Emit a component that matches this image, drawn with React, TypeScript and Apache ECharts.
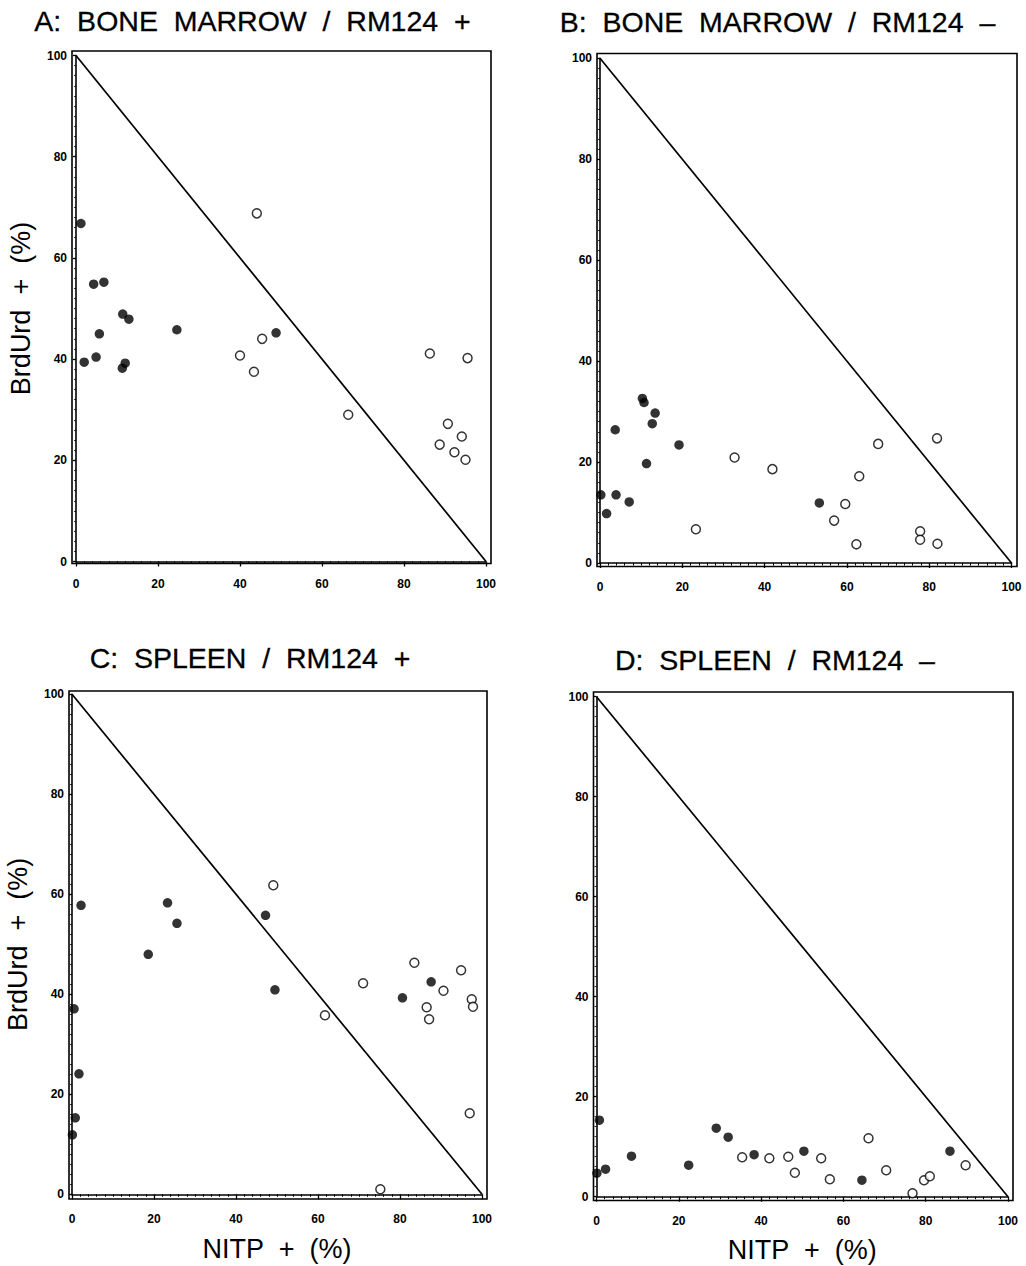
import React, { useEffect, useRef } from "react";
import * as echarts from "echarts";

// ---------- Data (NITP+ %, BrdUrd+ %) ----------
const titles = [
  "A:  BONE  MARROW  /  RM124  +",
  "B:  BONE  MARROW  /  RM124  –",
  "C:  SPLEEN  /  RM124  +",
  "D:  SPLEEN  /  RM124  –",
];
const xTitle = "NITP  +  (%)";
const yTitle = "BrdUrd  +  (%)";
const tickValues = [0, 20, 40, 60, 80, 100];
const diagonal: [number, number][] = [
  [0, 100],
  [100, 0],
];

const aFilled: [number, number][] = [
  [1.2, 66.8], [4.3, 54.8], [6.8, 55.2], [11.4, 48.9], [12.9, 47.9],
  [5.7, 45.0], [24.6, 45.8], [48.8, 45.2], [2.0, 39.4], [4.9, 40.4],
  [12.0, 39.2], [11.3, 38.2],
];
const aOpen: [number, number][] = [
  [44.1, 68.8], [45.4, 44.0], [40.0, 40.7], [43.4, 37.5], [66.4, 29.0],
  [86.3, 41.1], [95.5, 40.2], [90.7, 27.2], [94.1, 24.7], [88.7, 23.1],
  [92.3, 21.6], [95.0, 20.1],
];

const bFilled: [number, number][] = [
  [0.2, 13.5], [1.6, 9.8], [3.9, 13.5], [3.7, 26.4], [7.1, 12.1],
  [10.3, 32.6], [10.7, 31.8], [13.4, 29.7], [12.7, 27.6], [11.3, 19.7],
  [19.2, 23.4], [53.3, 11.9],
];
const bOpen: [number, number][] = [
  [23.3, 6.7], [32.7, 20.9], [41.9, 18.6], [56.9, 8.4], [59.6, 11.7],
  [62.3, 3.7], [63.0, 17.2], [67.6, 23.6], [77.8, 6.3], [77.8, 4.6],
  [81.9, 24.7], [82.0, 3.8],
];

const cFilled: [number, number][] = [
  [2.2, 57.8], [23.3, 58.3], [25.6, 54.2], [47.2, 55.8], [18.6, 48.0],
  [49.5, 40.9], [0.5, 37.1], [1.7, 24.1], [0.8, 15.3], [0.1, 11.9],
  [87.6, 42.5], [80.6, 39.3],
];
const cOpen: [number, number][] = [
  [49.1, 61.8], [61.7, 35.8], [71.0, 42.2], [83.5, 46.3], [94.9, 44.8],
  [90.6, 40.7], [86.5, 37.4], [87.1, 35.0], [97.5, 39.0], [97.8, 37.5],
  [97.0, 16.2], [75.2, 1.0],
];

const dFilled: [number, number][] = [
  [0.1, 4.7], [0.7, 15.3], [2.2, 5.5], [8.5, 8.1], [22.4, 6.3],
  [29.1, 13.7], [32.0, 11.9], [38.3, 8.4], [50.4, 9.1], [64.5, 3.3],
  [85.9, 9.1],
];
const dOpen: [number, number][] = [
  [35.4, 7.9], [42.0, 7.7], [46.6, 8.0], [48.2, 4.8], [54.6, 7.7],
  [56.7, 3.5], [66.1, 11.7], [70.4, 5.3], [76.8, 0.7], [79.6, 3.3],
  [81.0, 4.1], [89.7, 6.3],
];

const filledSets = [aFilled, bFilled, cFilled, dFilled];
const openSets = [aOpen, bOpen, cOpen, dOpen];

// ---------- Layout (pixels) ----------
const FONT = "'Liberation Sans', Arial, Helvetica, sans-serif";
// grid = data range 0..100 on both axes
const grids = [
  { left: 76, top: 55.5, width: 410, height: 506 },
  { left: 600, top: 58.3, width: 411.5, height: 504.7 },
  { left: 72, top: 694.3, width: 410, height: 500 },
  { left: 596.5, top: 696.7, width: 411.5, height: 500 },
];
// frame around the plot
const boxes = [
  { x: 72, y: 51, w: 419, h: 512.5 },
  { x: 597, y: 53.5, w: 420, h: 513 },
  { x: 69, y: 691, w: 418, h: 508 },
  { x: 593.5, y: 692, w: 419.5, h: 508.5 },
];
const titlePos = [
  { x: 252.5, y: 20.5 },
  { x: 777.5, y: 21.5 },
  { x: 250, y: 658 },
  { x: 775, y: 660 },
];

export default function App() {
  const ref = useRef<HTMLDivElement>(null);

  useEffect(() => {
    if (!ref.current) return;
    const chart = echarts.init(ref.current, undefined, { renderer: "svg" });

    const xAxes = grids.map((g, i) => {
      const box = boxes[i];
      const off = box.y + box.h - (g.top + g.height);
      return {
        type: "value",
        gridIndex: i,
        min: 0,
        max: 100,
        interval: 20,
        offset: off,
        name: i >= 2 ? xTitle : "",
        nameLocation: "middle",
        nameGap: 36,
        nameTextStyle: { fontSize: 27, color: "#000", fontFamily: FONT },
        axisLine: { show: true, lineStyle: { color: "#000", width: 1.6 } },
        axisTick: { show: true, length: 5, lineStyle: { color: "#000", width: 1.3 } },
        minorTick: { show: true, splitNumber: 10, length: 2.5, lineStyle: { color: "#000", width: 1 } },
        axisLabel: {
          color: "#000",
          fontSize: 12,
          fontWeight: "bold",
          fontFamily: FONT,
          margin: 14,
          customValues: tickValues,
        },
        splitLine: { show: false },
        minorSplitLine: { show: false },
      };
    });

    const yAxes = grids.map((g, i) => {
      const box = boxes[i];
      const off = g.left - box.x;
      return {
        type: "value",
        gridIndex: i,
        min: 0,
        max: 100,
        interval: 20,
        offset: off,
        name: i % 2 === 0 ? yTitle : "",
        nameLocation: "middle",
        nameRotate: 90,
        nameGap: 38,
        nameTextStyle: { fontSize: 27, color: "#000", fontFamily: FONT },
        axisLine: { show: true, lineStyle: { color: "#000", width: 1.6 } },
        axisTick: { show: true, length: 3, lineStyle: { color: "#000", width: 1.3 } },
        minorTick: { show: true, splitNumber: 10, length: 2, lineStyle: { color: "#000", width: 0.8 } },
        axisLabel: {
          color: "#000",
          fontSize: 12,
          fontWeight: "bold",
          fontFamily: FONT,
          margin: 5,
        },
        splitLine: { show: false },
        minorSplitLine: { show: false },
      };
    });

    const series: any[] = [];
    grids.forEach((_, i) => {
      series.push({
        type: "line",
        xAxisIndex: i,
        yAxisIndex: i,
        data: diagonal,
        symbol: "none",
        lineStyle: { color: "#000", width: 1.7 },
        silent: true,
      });
      series.push({
        type: "scatter",
        xAxisIndex: i,
        yAxisIndex: i,
        data: filledSets[i],
        symbol: "circle",
        symbolSize: 9.5,
        itemStyle: { color: "#000" },
      });
      series.push({
        type: "scatter",
        xAxisIndex: i,
        yAxisIndex: i,
        data: openSets[i],
        symbol: "circle",
        symbolSize: 9,
        itemStyle: { color: "#fff", borderColor: "#000", borderWidth: 1.5 },
      });
    });

    const graphic: any[] = [];
    boxes.forEach((b) => {
      graphic.push({
        type: "rect",
        shape: { x: b.x, y: b.y, width: b.w, height: b.h },
        style: { fill: "none", stroke: "#000", lineWidth: 1.6 },
        silent: true,
        z: 100,
      });
    });
    titles.forEach((t, i) => {
      graphic.push({
        type: "text",
        x: titlePos[i].x,
        y: titlePos[i].y,
        style: {
          text: t,
          fill: "#000",
          stroke: "#000",
          lineWidth: 0.3,
          font: `28.5px ${FONT}`,
          align: "center",
          verticalAlign: "middle",
        },
        silent: true,
      });
    });

    chart.setOption({
      animation: false,
      backgroundColor: "#fff",
      grid: grids.map((g) => ({ ...g, containLabel: false })),
      xAxis: xAxes,
      yAxis: yAxes,
      series,
      graphic,
    });

    return () => chart.dispose();
  }, []);

  return (
    <div
      ref={ref}
      style={{ position: "absolute", left: 0, top: 0, width: 1026, height: 1266, background: "#fff" }}
    />
  );
}
